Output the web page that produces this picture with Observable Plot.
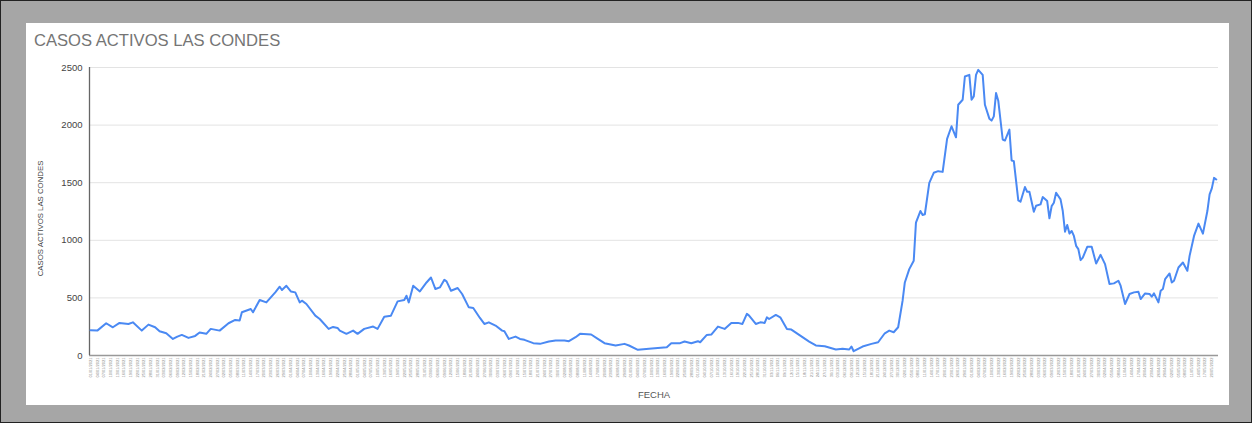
<!DOCTYPE html>
<html>
<head>
<meta charset="utf-8">
<script src="https://cdn.jsdelivr.net/npm/d3@7"></script>
<script src="https://cdn.jsdelivr.net/npm/@observablehq/plot@0.6"></script>
<style>
  html, body { margin: 0; padding: 0; }
  body { width: 1252px; height: 423px; overflow: hidden; }
  #page { position: relative; width: 1252px; height: 423px; background: #a6a6a6; box-sizing: border-box; border: 1px solid #222; }
  #card { position: absolute; left: 25px; top: 22px; width: 1203px; height: 382px; background: #fff; }
  #title { position: absolute; left: 8px; top: 8px; font-family: "Liberation Sans", Arial, sans-serif; font-size: 16.6px; color: #757575; }
  #chart { position: absolute; left: 0; top: 33px; }
</style>
</head>
<body>
<div id="page">
  <div id="card">
    <div id="title">CASOS ACTIVOS LAS CONDES</div>
    <div id="chart"></div>
  </div>
</div>
<script>
// Fecha de inicio de la serie y días transcurridos desde ella
const inicio = "2021-01-01";
const dias = [0,3,7,10,13,17,19,23,26,29,31,34,37,39,41,44,47,49,52,54,58,62,65,67,68,72,73,76,79,83,85,86,88,90,92,94,95,97,101,103,107,109,111,112,115,118,120,123,127,129,132,135,138,141,142,143,145,148,151,153,155,157,159,160,162,165,167,170,172,175,177,179,182,185,186,188,191,193,195,199,202,206,209,213,215,218,220,225,228,231,236,240,242,246,251,255,259,261,265,267,270,273,274,277,279,282,285,288,291,293,295,296,299,301,303,304,305,308,310,313,315,320,323,326,330,335,338,341,342,343,347,351,354,357,359,361,363,365,366,368,370,371,373,374,375,377,379,381,383,385,387,389,390,392,393,395,396,397,398,399,401,402,404,405,406,407,408,410,411,413,414,415,417,418,420,421,422,424,425,427,428,430,431,432,433,434,436,437,438,439,440,441,442,443,444,445,446,448,450,452,454,456,458,460,462,463,465,467,469,471,472,474,476,477,478,480,481,482,483,485,486,487,489,491,493,494,496,498,500,502,503,504,505,506];
const casos = [220,216,280,245,283,274,288,216,268,245,210,193,144,164,179,153,170,199,188,231,216,280,309,303,375,404,375,482,461,548,597,568,605,556,548,461,476,447,346,317,231,248,239,216,188,216,188,231,251,231,337,346,470,482,519,461,605,556,634,677,577,591,657,643,562,586,534,418,412,326,274,288,260,216,210,144,164,144,136,107,101,121,130,130,124,159,188,182,144,107,87,101,87,49,58,66,72,107,107,121,107,124,115,179,182,251,231,283,283,274,361,346,274,288,283,331,317,352,331,231,225,159,121,87,81,52,58,52,78,37,78,101,115,193,216,202,245,476,634,750,822,1153,1254,1220,1226,1499,1586,1600,1594,1880,1990,1894,2177,2220,2422,2436,2220,2249,2436,2480,2436,2177,2056,2039,2076,2278,2212,1875,1866,1961,1693,1687,1347,1335,1462,1421,1421,1248,1300,1312,1375,1341,1191,1297,1326,1413,1355,1254,1075,1133,1058,1081,1038,952,923,828,850,943,943,798,874,793,620,626,649,606,447,534,548,554,490,539,534,510,539,461,562,577,663,712,634,649,764,807,735,865,1038,1145,1058,1254,1399,1451,1542,1528];
// Etiquetas del eje X: una cada 3 días
const pasoEtiquetas = 3;
const ultimoDia = 506;
const marcasY = [0, 500, 1000, 1500, 2000, 2500];

const t0 = new Date(inicio + "T00:00:00Z");
const data = dias.map((d, i) => ({fecha: d3.utcDay.offset(t0, d), casos: casos[i]}));
const ticksX = d3.range(0, ultimoDia + 1, pasoEtiquetas).map(d => d3.utcDay.offset(t0, d));
const xDomain = [d3.utcHour.offset(t0, -12), d3.utcHour.offset(t0, (ultimoDia + 1) * 24)];

const chart = Plot.plot({
  width: 1203,
  height: 349,
  marginLeft: 63,
  marginRight: 11,
  marginTop: 11,
  marginBottom: 50,
  style: {fontFamily: "'Liberation Sans', Arial, sans-serif", background: "transparent"},
  x: {type: "utc", domain: xDomain},
  y: {domain: [0, 2500]},
  marks: [
    Plot.gridY(marcasY, {stroke: "#e3e3e3", strokeOpacity: 1}),
    Plot.axisY(marcasY, {tickSize: 0, tickPadding: 7, fontSize: 9.5, fill: "#444", tickFormat: d => String(d), label: null}),
    Plot.text(["CASOS ACTIVOS LAS CONDES"], {frameAnchor: "left", textAnchor: "middle", dx: -49, dy: 7, rotate: -90, fontSize: 7.8, fill: "#444"}),
    Plot.axisX(ticksX, {tickSize: 0, tickPadding: 2, tickRotate: -90, fontSize: 4, fill: "#888", tickFormat: d3.utcFormat("%d/%m/%Y"), label: null}),
    Plot.text(["FECHA"], {frameAnchor: "bottom", dy: 42, fontSize: 9.5, fill: "#555"}),
    Plot.ruleY([0], {stroke: "#999", strokeWidth: 1.3}),
    Plot.ruleX([xDomain[0]], {stroke: "#666", strokeWidth: 1.3}),
    Plot.line(data, {x: "fecha", y: "casos", stroke: "#4a89f3", strokeWidth: 2, strokeLinejoin: "round"})
  ]
});
document.getElementById("chart").appendChild(chart);
</script>
</body>
</html>
